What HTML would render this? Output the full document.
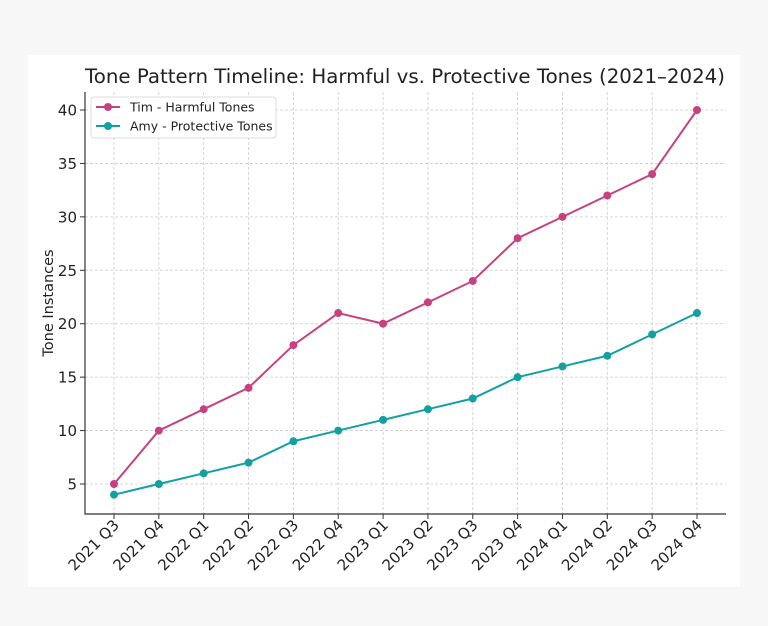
<!DOCTYPE html>
<html><head><meta charset="utf-8"><style>
body{margin:0;background:#f7f7f7;width:768px;height:626px;overflow:hidden;font-family:"DejaVu Sans","Liberation Sans",sans-serif}
#card{position:absolute;left:28px;top:55px;width:712px;height:532px;background:#fff}
svg{position:absolute;left:0;top:0}
</style></head><body>
<div id="card"></div>
<svg id="c" width="768" height="626"></svg>
<script>
const categories=["2021 Q3","2021 Q4","2022 Q1","2022 Q2","2022 Q3","2022 Q4","2023 Q1","2023 Q2","2023 Q3","2023 Q4","2024 Q1","2024 Q2","2024 Q3","2024 Q4"];
const timValues=[5,10,12,14,18,21,20,22,24,28,30,32,34,40];
const amyValues=[4,5,6,7,9,10,11,12,13,15,16,17,19,21];
const yTicks=[5,10,15,20,25,30,35,40];
const L=85,R=726,T=92,B=514;
const x=i=>114+i*(697-114)/(categories.length-1);
const y=v=>484-(v-5)*(484-110)/35;
const s=document.getElementById('c');const NS='http://www.w3.org/2000/svg';
function mk(t,a,p){const e=document.createElementNS(NS,t);for(const k in a)e.setAttribute(k,a[k]);(p||s).appendChild(e);return e;}
const grid=mk('g',{});
yTicks.forEach(v=>{mk('line',{x1:L,x2:R,y1:y(v),y2:y(v),stroke:'#ccc','stroke-dasharray':'3,2','stroke-width':0.8},grid);
const t=mk('text',{x:L-8,y:y(v)+5.5,'text-anchor':'end','font-size':15,fill:'#222'});t.textContent=v;

mk('line',{x1:L-5,x2:L,y1:y(v),y2:y(v),stroke:'#333'});});
categories.forEach((c,i)=>{mk('line',{x1:x(i),x2:x(i),y1:T,y2:B,stroke:'#ccc','stroke-dasharray':'3,2','stroke-width':0.8},grid);
mk('line',{x1:x(i),x2:x(i),y1:B,y2:B+5,stroke:'#333'});
const t=mk('text',{transform:`translate(${x(i)+6},${B+12}) rotate(-45)`,'text-anchor':'end','font-size':15,fill:'#222'});t.textContent=c;
});
mk('path',{d:`M${L} ${T}V${B}H${R}`,fill:'none',stroke:'#333','stroke-width':1.2});
function series(vals,col,name){const g=mk('g',{});
mk('polyline',{points:vals.map((v,i)=>x(i)+','+y(v)).join(' '),fill:'none',stroke:col,'stroke-width':2},g);
vals.forEach((v,i)=>{const p=mk('circle',{cx:x(i),cy:y(v),r:4,fill:col},g);});}
series(timValues,'#c8417f','tim-harmful-series');series(amyValues,'#13a0a1','amy-protective-series');
const tt=mk('text',{x:405,y:83,'text-anchor':'middle','font-size':19.8,fill:'#222'});tt.textContent='Tone Pattern Timeline: Harmful vs. Protective Tones (2021–2024)';

const yl=mk('text',{transform:'translate(53,303) rotate(-90)','text-anchor':'middle','font-size':14.5,fill:'#222'});yl.textContent='Tone Instances';

const lg=mk('g',{});
mk('rect',{x:91,y:97,width:185,height:41,rx:3,fill:'#fff',stroke:'#ddd'},lg);
[['Tim - Harmful Tones','#c8417f',107],['Amy - Protective Tones','#13a0a1',126]].forEach(([n,c,yy])=>{
mk('line',{x1:96,x2:120,y1:yy,y2:yy,stroke:c,'stroke-width':2},lg);mk('circle',{cx:108,cy:yy,r:4,fill:c},lg);
const t=mk('text',{x:130,y:yy+4.5,'font-size':12.5,fill:'#222'},lg);t.textContent=n;});
</script>
</body></html>
